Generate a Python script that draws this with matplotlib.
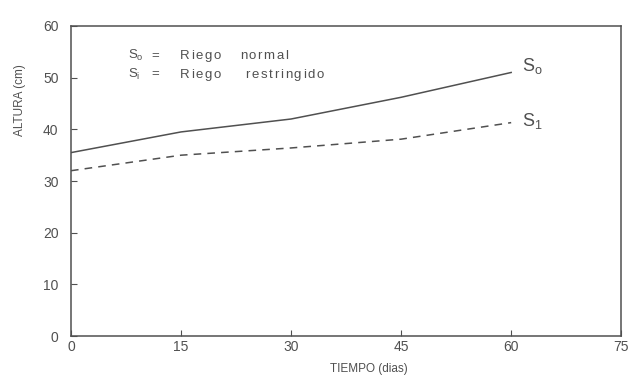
import matplotlib.pyplot as plt
from matplotlib.transforms import offset_copy

# plant height (cm) against time (days) under two irrigation regimes
dias = [0, 15, 30, 45, 60]
altura_s0 = [35.5, 39.5, 42.0, 46.2, 51.0]
altura_s1 = [32.0, 35.0, 36.4, 38.1, 41.3]
xticks = [0, 15, 30, 45, 60, 75]
yticks = [0, 10, 20, 30, 40, 50, 60]

plt.rcParams['font.family'] = ['Liberation Sans', 'DejaVu Sans']
plt.rcParams['mathtext.fontset'] = 'custom'
plt.rcParams['mathtext.rm'] = 'Liberation Sans'
ink = '#505050'

fig = plt.figure(figsize=(6.31, 3.76), dpi=100)
ax = fig.add_axes([0.1125, 0.106, 0.872, 0.825])
renderer = fig.canvas.get_renderer()


def spaced(x, y, s, track=1.6, **kw):
    """Write s one letter at a time with extra tracking (in pixels)."""
    dx = 0.0
    for ch in s:
        tr = offset_copy(ax.transData, fig=fig, x=dx, y=0, units='dots')
        t = ax.text(x, y, ch, transform=tr, va='center', **kw)
        dx += t.get_window_extent(renderer).width + track


ax.plot(dias, altura_s0, color=ink, lw=1.1, ls='-')
ax.plot(dias, altura_s1, color=ink, lw=1.1, ls=(0, (5, 4)))

ax.set_xlim(0, 75)
ax.set_ylim(0, 60)
ax.set_xticks(xticks)
ax.set_yticks(yticks)
ax.tick_params(direction='in', length=4, color=ink, labelcolor=ink,
               labelsize=10, width=0.8)
ax.tick_params(axis='y', pad=9)
ax.tick_params(axis='x', pad=3)
for s in ax.spines.values():
    s.set_color(ink)
    s.set_linewidth(1.1)

ax.set_xlabel('TIEMPO (dias)', color=ink, fontsize=8.5)
ax.xaxis.set_label_coords(0.542, -0.085)
ax.set_ylabel('ALTURA (cm)', color=ink, fontsize=8.5)
ax.yaxis.set_label_coords(-0.082, 0.76)

# key written inside the frame
kw = dict(color=ink, fontsize=9.5)
ax.text(7.8, 54.2, r'$\mathrm{S_o}$', va='center', **kw)
ax.text(7.8, 50.6, r'$\mathrm{S_i}$', va='center', **kw)
ax.text(11.0, 54.2, '=', va='center', **kw)
ax.text(11.0, 50.6, '=', va='center', **kw)
spaced(14.8, 54.2, 'Riego', **kw)
spaced(14.8, 50.6, 'Riego', **kw)
spaced(23.0, 54.2, 'normal', **kw)
spaced(23.8, 50.6, 'restringido', **kw)

# series tags at the line ends
ax.text(dias[-1] + 1.5, altura_s0[-1] + 1.3, r'$\mathrm{S_o}$', color=ink,
        fontsize=13, va='center')
ax.text(dias[-1] + 1.5, altura_s1[-1] + 0.4, r'$\mathrm{S_1}$', color=ink,
        fontsize=13, va='center')

fig.savefig('out.png', dpi=100)
